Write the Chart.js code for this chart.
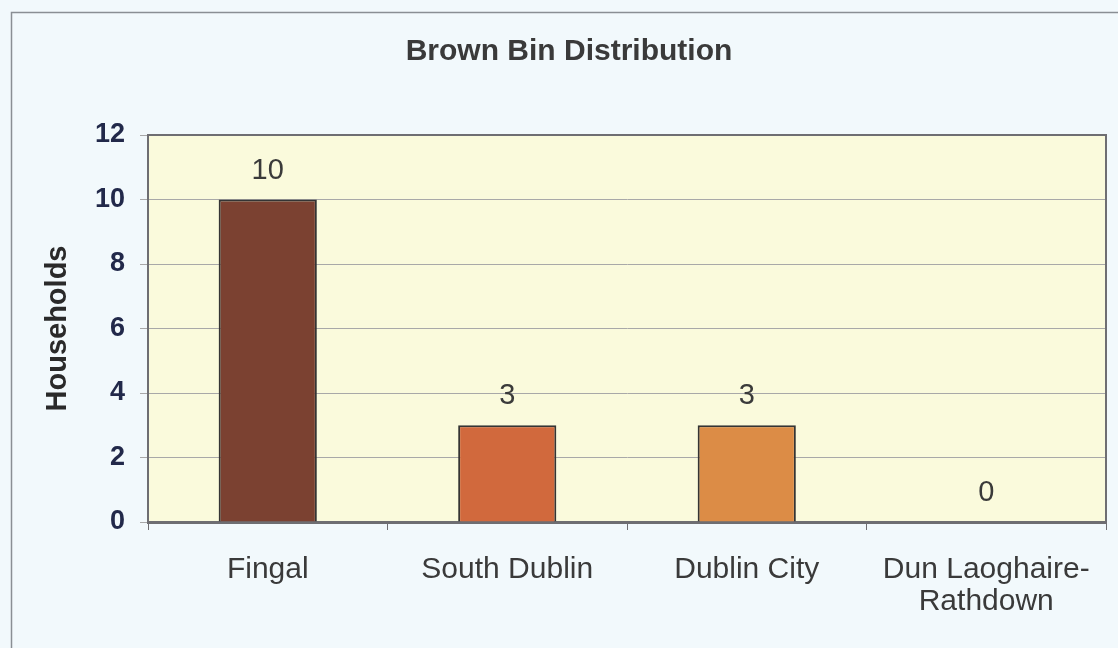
<!DOCTYPE html>
<html>
<head>
<meta charset="utf-8">
<title>Brown Bin Distribution</title>
<script src="https://cdn.jsdelivr.net/npm/chart.js@4/dist/chart.umd.min.js"></script>
<style>
  html, body { margin: 0; padding: 0; background: #f2f9fc; }
  #wrap { width: 1118px; height: 648px; }
</style>
</head>
<body>
<div id="wrap"><canvas id="chart" width="1118" height="648"></canvas></div>
<script>
// Brown bin households by local authority area
const categories = ['Fingal', 'South Dublin', 'Dublin City', ['Dun Laoghaire-', 'Rathdown']];
const households = [10, 3, 3, 0];
const barColors = ['#7b4131', '#d1693d', '#dc8c46'];
const yTicks = [0, 2, 4, 6, 8, 10, 12];

const FONT = "'Liberation Sans', Arial, sans-serif";

// Page background, outer frame and plot-area fill
const frame = {
  id: 'frame',
  beforeDraw(chart) {
    const { ctx, width, height, chartArea: a } = chart;
    ctx.save();
    ctx.fillStyle = '#f2f9fc';
    ctx.fillRect(0, 0, width, height);
    ctx.strokeStyle = '#8a8f94';
    ctx.lineWidth = 1.5;
    ctx.beginPath();
    ctx.moveTo(11.5, height);
    ctx.lineTo(11.5, 12.5);
    ctx.lineTo(width, 12.5);
    ctx.stroke();
    ctx.fillStyle = '#fafadc';
    ctx.fillRect(a.left, a.top, a.right - a.left, a.bottom - a.top);
    ctx.restore();
  }
};

// Top and right edges of the plot area
const plotBorder = {
  id: 'plotBorder',
  afterDatasetsDraw(chart) {
    const { ctx, chartArea: a } = chart;
    ctx.save();
    ctx.strokeStyle = '#6e6e72';
    ctx.lineWidth = 2;
    ctx.beginPath();
    ctx.moveTo(a.left, a.top);
    ctx.lineTo(a.right, a.top);
    ctx.lineTo(a.right, a.bottom);
    ctx.stroke();
    ctx.restore();
  }
};

// Value written above each bar
const valueLabels = {
  id: 'valueLabels',
  afterDatasetsDraw(chart) {
    const { ctx } = chart;
    const meta = chart.getDatasetMeta(0);
    ctx.save();
    ctx.font = `29px ${FONT}`;
    ctx.fillStyle = '#3a3a3a';
    ctx.textAlign = 'center';
    ctx.textBaseline = 'middle';
    meta.data.forEach((bar, i) => {
      ctx.fillText(String(households[i]), bar.x, bar.y - 29);
    });
    ctx.restore();
  }
};

new Chart(document.getElementById('chart'), {
  type: 'bar',
  data: {
    labels: categories,
    datasets: [{
      data: households,
      backgroundColor: barColors,
      borderColor: '#343434',
      borderWidth: 2,
      categoryPercentage: 0.82,
      barPercentage: 0.5
    }]
  },
  options: {
    responsive: false,
    animation: false,
    layout: { padding: { left: 32, right: 12, bottom: 0 } },
    plugins: {
      legend: { display: false },
      tooltip: { enabled: false },
      title: {
        display: true,
        text: 'Brown Bin Distribution',
        color: '#3a3a3a',
        font: { family: FONT, size: 30, weight: 'bold', lineHeight: 1.2 },
        padding: { top: 34, bottom: 65 }
      }
    },
    scales: {
      x: {
        afterFit(s) { s.height = 126; },
        grid: {
          offset: true,
          drawOnChartArea: false,
          color: '#6e6e72',
          tickLength: 8
        },
        border: { color: '#6e6e72', width: 3 },
        ticks: {
          color: '#3a3a3a',
          padding: 24,
          maxRotation: 0,
          autoSkip: false,
          font: { family: FONT, size: 30, lineHeight: 1.07 }
        }
      },
      y: {
        min: 0,
        max: 12,
        afterFit(s) { s.width = 116; },
        afterBuildTicks(s) { s.ticks = yTicks.map(v => ({ value: v })); },
        grid: {
          color: '#a8a8a8',
          lineWidth: 1,
          tickLength: 8
        },
        border: { color: '#6e6e72', width: 2 },
        ticks: {
          color: '#22294a',
          padding: 15,
          font: { family: FONT, size: 27, weight: 'bold' }
        },
        title: {
          display: true,
          text: 'Households',
          color: '#2a2a2a',
          font: { family: FONT, size: 29, weight: 'bold', lineHeight: 1.2 },
          padding: { top: 9, bottom: 0 }
        }
      }
    }
  },
  plugins: [frame, plotBorder, valueLabels]
});
</script>
</body>
</html>
